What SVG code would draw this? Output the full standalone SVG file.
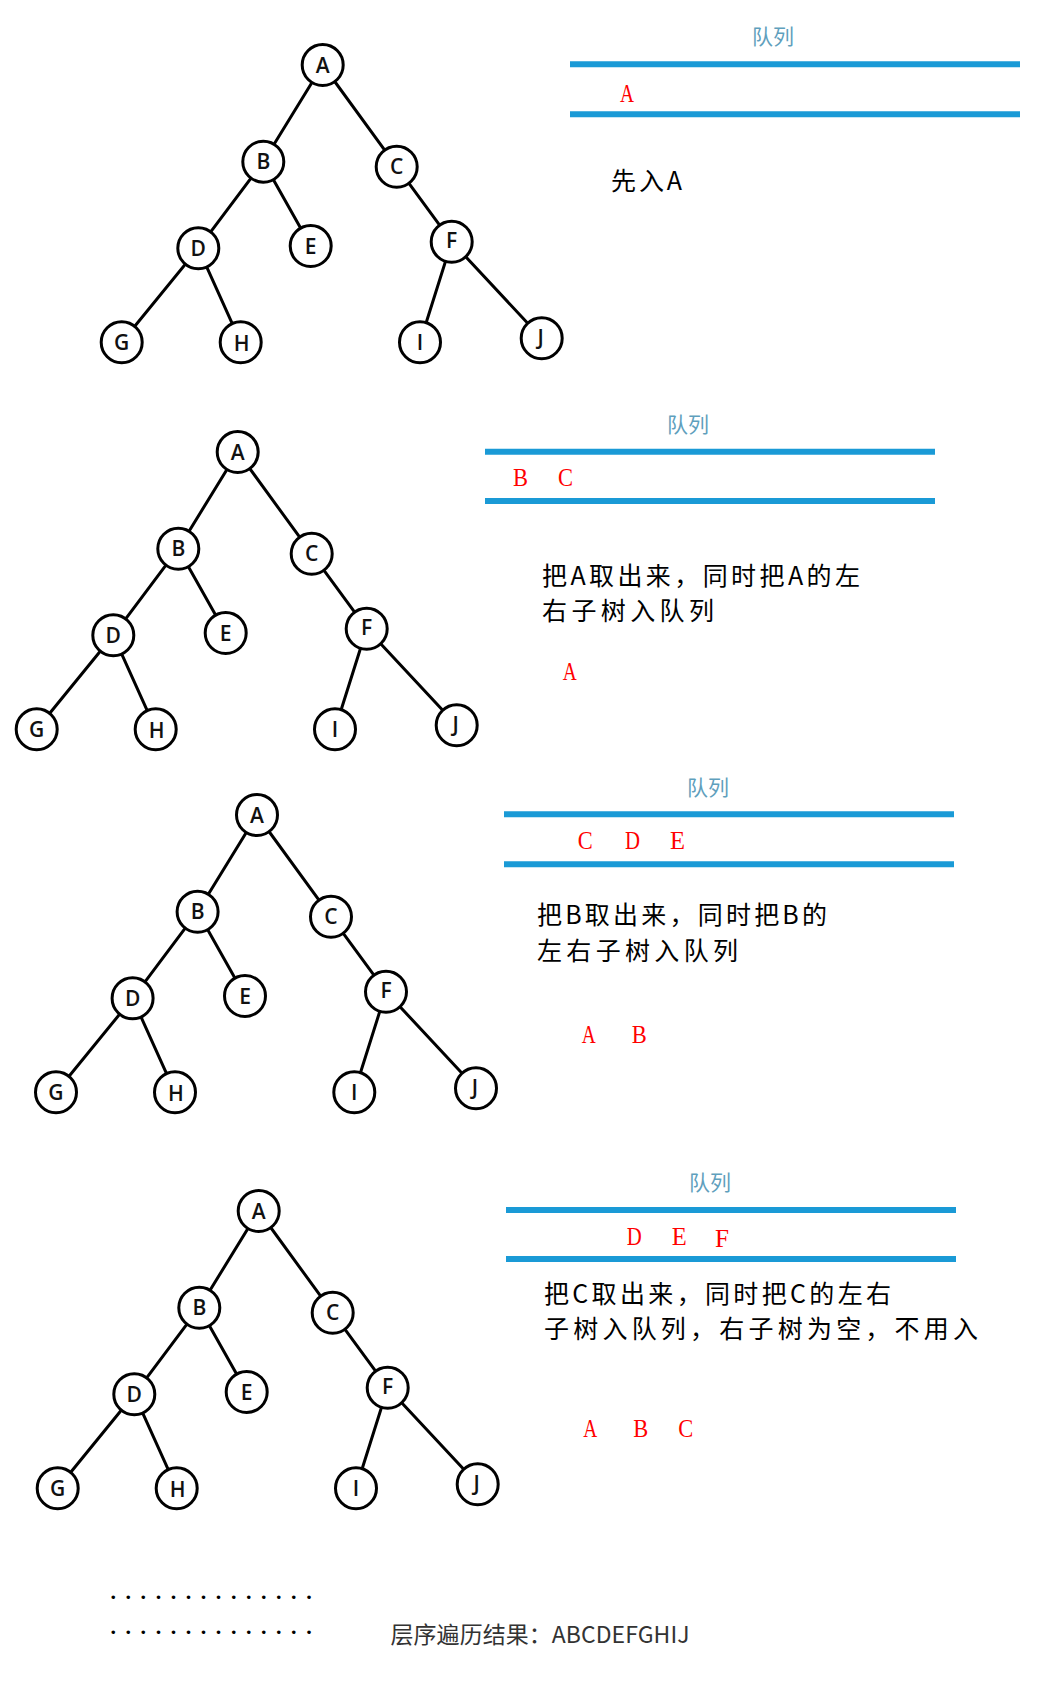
<svg xmlns="http://www.w3.org/2000/svg" width="1038" height="1708" viewBox="0 0 1038 1708">
<style>
.edge{stroke:#000;stroke-width:3;stroke-linecap:round}
.node circle{fill:#fff;stroke:#000;stroke-width:3}
.node text{font-family:"Open Sans","Noto Sans",sans-serif;font-size:21px;font-weight:600;text-anchor:middle;fill:#111}
.qline{stroke:#1a9ad6;stroke-width:6}
.qtitle{font-family:"Noto Sans CJK SC",sans-serif;font-size:21px;fill:#5f9fbd;text-anchor:middle}
.red{font-family:"Liberation Serif",serif;font-size:26px;fill:#f00}
.desc{font-family:"Noto Sans CJK SC",sans-serif;font-size:25px;fill:#000}
.dots{font-family:"Liberation Serif",serif;font-size:22px;font-weight:bold;fill:#000;letter-spacing:9.55px}
.result{font-family:"Noto Sans CJK SC",sans-serif;font-size:23px;fill:#333}
</style>
<defs>
<g id="tree">
<g class="connectors">
<line class="edge" x1="322.7" y1="65" x2="263.3" y2="161.7"/>
<line class="edge" x1="322.7" y1="65" x2="396.7" y2="166.7"/>
<line class="edge" x1="263.3" y1="161.7" x2="198.3" y2="248.3"/>
<line class="edge" x1="263.3" y1="161.7" x2="310.7" y2="246"/>
<line class="edge" x1="396.7" y1="166.7" x2="451.7" y2="241.7"/>
<line class="edge" x1="198.3" y1="248.3" x2="121.7" y2="342.3"/>
<line class="edge" x1="198.3" y1="248.3" x2="240.7" y2="342.3"/>
<line class="edge" x1="451.7" y1="241.7" x2="420" y2="342.3"/>
<line class="edge" x1="451.7" y1="241.7" x2="541.7" y2="338.3"/>
</g>
<g class="node"><circle cx="322.7" cy="65" r="20.5"/><text x="322.7" y="72.5">A</text></g>
<g class="node"><circle cx="263.3" cy="161.7" r="20.5"/><text x="263.3" y="169.2">B</text></g>
<g class="node"><circle cx="396.7" cy="166.7" r="20.5"/><text x="396.7" y="174.2">C</text></g>
<g class="node"><circle cx="198.3" cy="248.3" r="20.5"/><text x="198.3" y="255.8">D</text></g>
<g class="node"><circle cx="310.7" cy="246" r="20.5"/><text x="310.7" y="253.5">E</text></g>
<g class="node"><circle cx="451.7" cy="241.7" r="20.5"/><text x="451.7" y="248.2">F</text></g>
<g class="node"><circle cx="121.7" cy="342.3" r="20.5"/><text x="121.7" y="349.8">G</text></g>
<g class="node"><circle cx="240.7" cy="342.3" r="20.5"/><text x="241.7" y="351.3">H</text></g>
<g class="node"><circle cx="420" cy="342.3" r="20.5"/><text x="420" y="350.3">I</text></g>
<g class="node"><circle cx="541.7" cy="338.3" r="20.5"/><text x="540.7" y="344.8">J</text></g>
</g>
</defs>

<g id="tree1"><use href="#tree"/></g>
<g id="tree2" transform="translate(-85,387)"><use href="#tree"/></g>
<g id="tree3" transform="translate(-65.7,750)"><use href="#tree"/></g>
<g id="tree4" transform="translate(-64,1146)"><use href="#tree"/></g>

<!-- Queue 1 -->
<g id="queue1">
<text class="qtitle" x="773" y="44">队列</text>
<line class="qline" x1="570" y1="64.3" x2="1020" y2="64.3"/>
<line class="qline" x1="570" y1="114.3" x2="1020" y2="114.3"/>
<text class="red" x="620" y="101.7" textLength="14" lengthAdjust="spacingAndGlyphs">A</text>
</g>
<text class="desc" x="611" y="190" textLength="71" lengthAdjust="spacing">先入A</text>

<!-- Queue 2 -->
<g id="queue2">
<text class="qtitle" x="688" y="432">队列</text>
<line class="qline" x1="485" y1="451.7" x2="935" y2="451.7"/>
<line class="qline" x1="485" y1="501" x2="935" y2="501"/>
<text class="red" x="513" y="486" textLength="15" lengthAdjust="spacingAndGlyphs">B</text>
<text class="red" x="558" y="486" textLength="15" lengthAdjust="spacingAndGlyphs">C</text>
</g>
<text class="desc" x="542" y="585" textLength="318" lengthAdjust="spacing">把A取出来，同时把A的左</text>
<text class="desc" x="542" y="620" textLength="172" lengthAdjust="spacing">右子树入队列</text>
<text class="red" x="562.7" y="680" textLength="14" lengthAdjust="spacingAndGlyphs">A</text>

<!-- Queue 3 -->
<g id="queue3">
<text class="qtitle" x="708" y="795">队列</text>
<line class="qline" x1="504" y1="814.3" x2="954" y2="814.3"/>
<line class="qline" x1="504" y1="864.3" x2="954" y2="864.3"/>
<text class="red" x="577.7" y="849.3" textLength="15" lengthAdjust="spacingAndGlyphs">C</text>
<text class="red" x="625" y="849.3" textLength="15" lengthAdjust="spacingAndGlyphs">D</text>
<text class="red" x="670" y="849.3" textLength="15" lengthAdjust="spacingAndGlyphs">E</text>
</g>
<text class="desc" x="537" y="924" textLength="290" lengthAdjust="spacing">把B取出来，同时把B的</text>
<text class="desc" x="537" y="960" textLength="201" lengthAdjust="spacing">左右子树入队列</text>
<text class="red" x="581.7" y="1043.3" textLength="14" lengthAdjust="spacingAndGlyphs">A</text>
<text class="red" x="631.7" y="1043.3" textLength="15" lengthAdjust="spacingAndGlyphs">B</text>

<!-- Queue 4 -->
<g id="queue4">
<text class="qtitle" x="710" y="1190">队列</text>
<line class="qline" x1="506" y1="1210" x2="956" y2="1210"/>
<line class="qline" x1="506" y1="1259" x2="956" y2="1259"/>
<text class="red" x="626.7" y="1245" textLength="15" lengthAdjust="spacingAndGlyphs">D</text>
<text class="red" x="671.7" y="1245" textLength="15" lengthAdjust="spacingAndGlyphs">E</text>
<text class="red" x="715" y="1246.7" textLength="14" lengthAdjust="spacingAndGlyphs">F</text>
</g>
<text class="desc" x="544" y="1303" textLength="347" lengthAdjust="spacing">把C取出来，同时把C的左右</text>
<text class="desc" x="544" y="1338" textLength="434" lengthAdjust="spacing">子树入队列，右子树为空，不用入</text>
<text class="red" x="583.3" y="1437.3" textLength="14" lengthAdjust="spacingAndGlyphs">A</text>
<text class="red" x="633.3" y="1437.3" textLength="15" lengthAdjust="spacingAndGlyphs">B</text>
<text class="red" x="678.3" y="1437.3" textLength="15" lengthAdjust="spacingAndGlyphs">C</text>

<!-- Bottom -->
<text class="dots" x="110.5" y="1598.5">..............</text>
<text class="dots" x="110.5" y="1634">..............</text>
<text class="result" x="390.5" y="1642.5" textLength="299" lengthAdjust="spacing">层序遍历结果：ABCDEFGHIJ</text>
</svg>
